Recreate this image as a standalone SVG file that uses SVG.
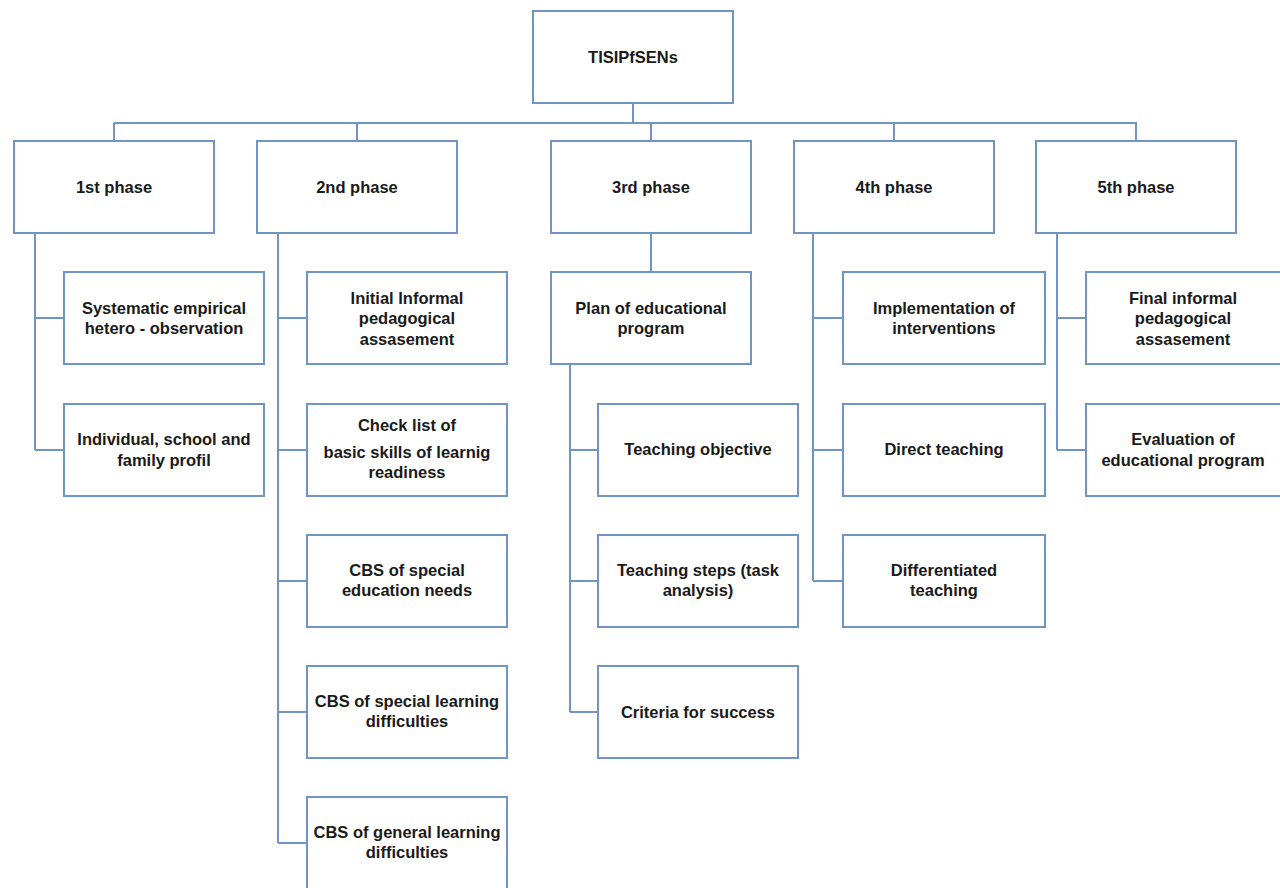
<svg xmlns="http://www.w3.org/2000/svg" width="1280" height="888" viewBox="0 0 1280 888">
<style>
.box{fill:#ffffff;stroke:#7094c4;stroke-width:2}
.ln{fill:none;stroke:#7094c4;stroke-width:2}
text{font-family:"Liberation Sans",Arial,sans-serif;font-weight:bold;font-size:16.5px;fill:#1a1a1a;text-anchor:middle;dominant-baseline:central}
</style>
<rect width="1280" height="888" fill="#ffffff"/>
<g id="connectors">
<path class="ln" d="M633 103V123M114 123H1137M114 123V141M357 123V141M651 123V141M894 123V141M1136 123V141"/>
<path class="ln" d="M35 233V450M35 318H64M35 450H64"/>
<path class="ln" d="M278 233V843M278 318H307M278 450H307M278 581H307M278 712H307M278 843H307"/>
<path class="ln" d="M651 233V272M570 364V712M570 450H598M570 581H598M570 712H598"/>
<path class="ln" d="M813 233V581M813 318H843M813 450H843M813 581H843"/>
<path class="ln" d="M1057 233V450M1057 318H1086M1057 450H1086"/>
</g>
<g id="root"><rect class="box" x="533" y="11" width="200" height="92"/><text x="633" y="57">TISIPfSENs</text></g>
<g id="p1"><rect class="box" x="14" y="141" width="200" height="92"/><text x="114" y="187">1st phase</text></g>
<g id="p2"><rect class="box" x="257" y="141" width="200" height="92"/><text x="357" y="187">2nd phase</text></g>
<g id="p3"><rect class="box" x="551" y="141" width="200" height="92"/><text x="651" y="187">3rd phase</text></g>
<g id="p4"><rect class="box" x="794" y="141" width="200" height="92"/><text x="894" y="187">4th phase</text></g>
<g id="p5"><rect class="box" x="1036" y="141" width="200" height="92"/><text x="1136" y="187">5th phase</text></g>

<g id="p1a"><rect class="box" x="64" y="272" width="200" height="92"/><text x="164" y="308">Systematic empirical</text><text x="164" y="328">hetero - observation</text></g>
<g id="p1b"><rect class="box" x="64" y="404" width="200" height="92"/><text x="164" y="439">Individual, school and</text><text x="164" y="460">family profil</text></g>

<g id="p2a"><rect class="box" x="307" y="272" width="200" height="92"/><text x="407" y="298">Initial Informal</text><text x="407" y="318">pedagogical</text><text x="407" y="339">assasement</text></g>
<g id="p2b"><rect class="box" x="307" y="404" width="200" height="92"/><text x="407" y="425">Check list of</text><text x="407" y="452">basic skills of learnig</text><text x="407" y="472">readiness</text></g>
<g id="p2c"><rect class="box" x="307" y="535" width="200" height="92"/><text x="407" y="570">CBS of special</text><text x="407" y="590">education needs</text></g>
<g id="p2d"><rect class="box" x="307" y="666" width="200" height="92"/><text x="407" y="701">CBS of special learning</text><text x="407" y="721">difficulties</text></g>
<g id="p2e"><rect class="box" x="307" y="797" width="200" height="93"/><text x="407" y="832">CBS of general learning</text><text x="407" y="852">difficulties</text></g>

<g id="p3a"><rect class="box" x="551" y="272" width="200" height="92"/><text x="651" y="308">Plan of educational</text><text x="651" y="328">program</text></g>
<g id="p3b"><rect class="box" x="598" y="404" width="200" height="92"/><text x="698" y="449">Teaching objective</text></g>
<g id="p3c"><rect class="box" x="598" y="535" width="200" height="92"/><text x="698" y="570">Teaching steps (task</text><text x="698" y="590">analysis)</text></g>
<g id="p3d"><rect class="box" x="598" y="666" width="200" height="92"/><text x="698" y="712">Criteria for success</text></g>

<g id="p4a"><rect class="box" x="843" y="272" width="202" height="92"/><text x="944" y="308">Implementation of</text><text x="944" y="328">interventions</text></g>
<g id="p4b"><rect class="box" x="843" y="404" width="202" height="92"/><text x="944" y="449">Direct teaching</text></g>
<g id="p4c"><rect class="box" x="843" y="535" width="202" height="92"/><text x="944" y="570">Differentiated</text><text x="944" y="590">teaching</text></g>

<g id="p5a"><rect class="box" x="1086" y="272" width="200" height="92"/><text x="1183" y="298">Final informal</text><text x="1183" y="318">pedagogical</text><text x="1183" y="339">assasement</text></g>
<g id="p5b"><rect class="box" x="1086" y="404" width="200" height="92"/><text x="1183" y="439">Evaluation of</text><text x="1183" y="460">educational program</text></g>
</svg>
